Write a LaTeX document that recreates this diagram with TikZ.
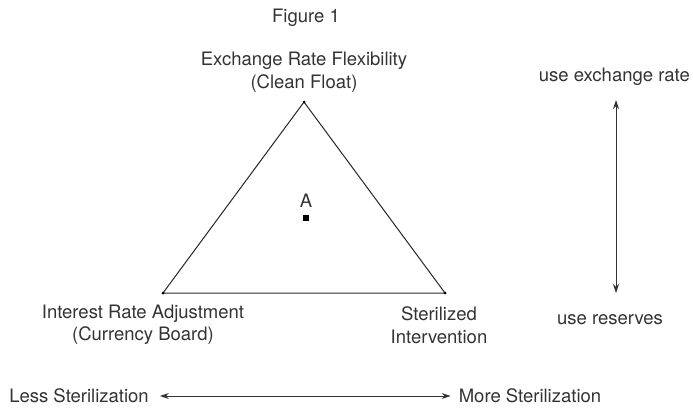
\documentclass[tikz,border=0pt]{standalone}
\usepackage{fontspec}
\setmainfont{TeX Gyre Heros}
\usetikzlibrary{arrows.meta}
\definecolor{inkgray}{HTML}{333333}
\tikzset{
  lbl/.style={text=inkgray,font=\fontsize{18.5}{22.5}\selectfont,align=center,inner sep=0pt},
  twoway/.style={line width=1pt,inkgray,{Stealth[length=9pt,width=6pt]}-{Stealth[length=9pt,width=6pt]}}
}
\begin{document}
\begin{tikzpicture}[x=1pt,y=-1pt]
  \useasboundingbox (0,0) rectangle (693,407);
  \node[lbl] (fig) at (306,18) {Figure 1};
  \node[lbl] (flex) at (304,72) {Exchange Rate Flexibility\\(Clean Float)};
  \node[lbl] (iradj) at (143,325) {Interest Rate Adjustment\\(Currency Board)};
  \node[lbl] (steril) at (439,325) {Sterilized\\Intervention};
  \coordinate (top) at (304,102);
  \coordinate (left) at (163,293);
  \coordinate (right) at (445,293);
  \draw[line width=1pt,black!85] (top)--(left)--(right)--cycle;
  \foreach \v in {top,left,right} \fill[black] (\v) circle (1.5pt);
  \node[lbl] (alab) at (306,201) {A};
  \node[fill=black,minimum size=6pt,inner sep=0pt] (a) at (306,218) {};
  \node[lbl,anchor=east] (usexr) at (690,77) {use exchange rate};
  \node[lbl] (usres) at (610,320) {use reserves};
  \coordinate (vtop) at (616,100);
  \coordinate (vbot) at (616,293);
  \draw[twoway] (vtop)--(vbot);
  \node[lbl] (less) at (79,396) {Less Sterilization};
  \node[lbl] (more) at (530,396) {More Sterilization};
  \draw[twoway,shorten <=11pt,shorten >=8pt] (less.east)--(more.west);
\end{tikzpicture}
\end{document}
